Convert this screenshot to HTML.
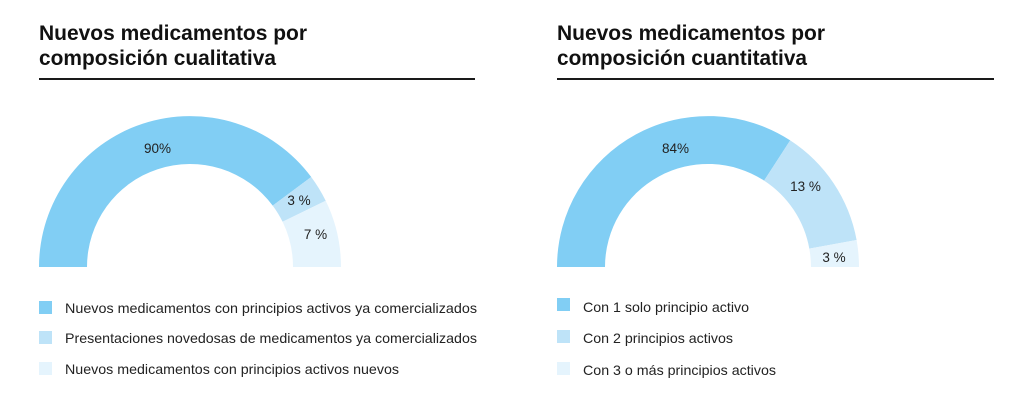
<!DOCTYPE html>
<html>
<head>
<meta charset="utf-8">
<style>
  html,body{margin:0;padding:0;background:#fff;}
  svg{display:block;}
  .t{font-family:"Liberation Sans",sans-serif;font-weight:bold;font-size:21px;fill:#111;}
  .l{font-family:"Liberation Sans",sans-serif;font-size:14px;fill:#222;}
  .p{font-family:"Liberation Sans",sans-serif;font-size:13.5px;fill:#222;text-anchor:middle;}
</style>
</head>
<body>
<svg width="1024" height="403" viewBox="0 0 1024 403" xmlns="http://www.w3.org/2000/svg">
  <!-- Left titles -->
  <text class="t" x="39" y="40" textLength="268" lengthAdjust="spacingAndGlyphs">Nuevos medicamentos por</text>
  <text class="t" x="39" y="65" textLength="237" lengthAdjust="spacingAndGlyphs">composición cualitativa</text>
  <rect x="39" y="78" width="436" height="2" fill="#1a1a1a"/>

  <!-- Right titles -->
  <text class="t" x="557" y="40" textLength="268" lengthAdjust="spacingAndGlyphs">Nuevos medicamentos por</text>
  <text class="t" x="557" y="65" textLength="250" lengthAdjust="spacingAndGlyphs">composición cuantitativa</text>
  <rect x="557" y="78" width="437" height="2" fill="#1a1a1a"/>

  <!-- Left donut: center (190,267) R=151 r=103 -->
  <path d="M39,267 A151,151 0 0 1 311.2,177.0 L272.7,205.6 A103,103 0 0 0 87,267 Z" fill="#81cef4"/>
  <path d="M311.2,177.0 A151,151 0 0 1 325.7,200.8 L282.6,221.8 A103,103 0 0 0 272.7,205.6 Z" fill="#bee3f8"/>
  <path d="M325.7,200.8 A151,151 0 0 1 341,267 L293,267 A103,103 0 0 0 282.6,221.8 Z" fill="#e5f4fd"/>
  <text class="p" x="157.5" y="153">90%</text>
  <text class="p" x="299" y="205">3 %</text>
  <text class="p" x="315.5" y="239">7 %</text>

  <!-- Right donut: center (708,267) R=151 r=103 -->
  <path d="M557,267 A151,151 0 0 1 790.2,140.4 L764.1,180.6 A103,103 0 0 0 605,267 Z" fill="#81cef4"/>
  <path d="M790.2,140.4 A151,151 0 0 1 856.6,240.0 L809.3,248.6 A103,103 0 0 0 764.1,180.6 Z" fill="#bee3f8"/>
  <path d="M856.6,240.0 A151,151 0 0 1 859,267 L811,267 A103,103 0 0 0 809.3,248.6 Z" fill="#e5f4fd"/>
  <text class="p" x="675.5" y="153">84%</text>
  <text class="p" x="805.5" y="191">13 %</text>
  <text class="p" x="834" y="262">3 %</text>

  <!-- Left legend -->
  <rect x="39" y="301" width="13" height="13" fill="#81cef4"/>
  <rect x="39" y="331" width="13" height="13" fill="#bee3f8"/>
  <rect x="39" y="362" width="13" height="13" fill="#e5f4fd"/>
  <text class="l" x="65" y="313" textLength="412" lengthAdjust="spacingAndGlyphs">Nuevos medicamentos con principios activos ya comercializados</text>
  <text class="l" x="65" y="343" textLength="412" lengthAdjust="spacingAndGlyphs">Presentaciones novedosas de medicamentos ya comercializados</text>
  <text class="l" x="65" y="374" textLength="334" lengthAdjust="spacingAndGlyphs">Nuevos medicamentos con principios activos nuevos</text>

  <!-- Right legend -->
  <rect x="557" y="298" width="13" height="13" fill="#81cef4"/>
  <rect x="557" y="330" width="13" height="13" fill="#bee3f8"/>
  <rect x="557" y="362" width="13" height="13" fill="#e5f4fd"/>
  <text class="l" x="583" y="312" textLength="166" lengthAdjust="spacingAndGlyphs">Con 1 solo principio activo</text>
  <text class="l" x="583" y="343" textLength="150" lengthAdjust="spacingAndGlyphs">Con 2 principios activos</text>
  <text class="l" x="583" y="375" textLength="193" lengthAdjust="spacingAndGlyphs">Con 3 o más principios activos</text>
</svg>
</body>
</html>
